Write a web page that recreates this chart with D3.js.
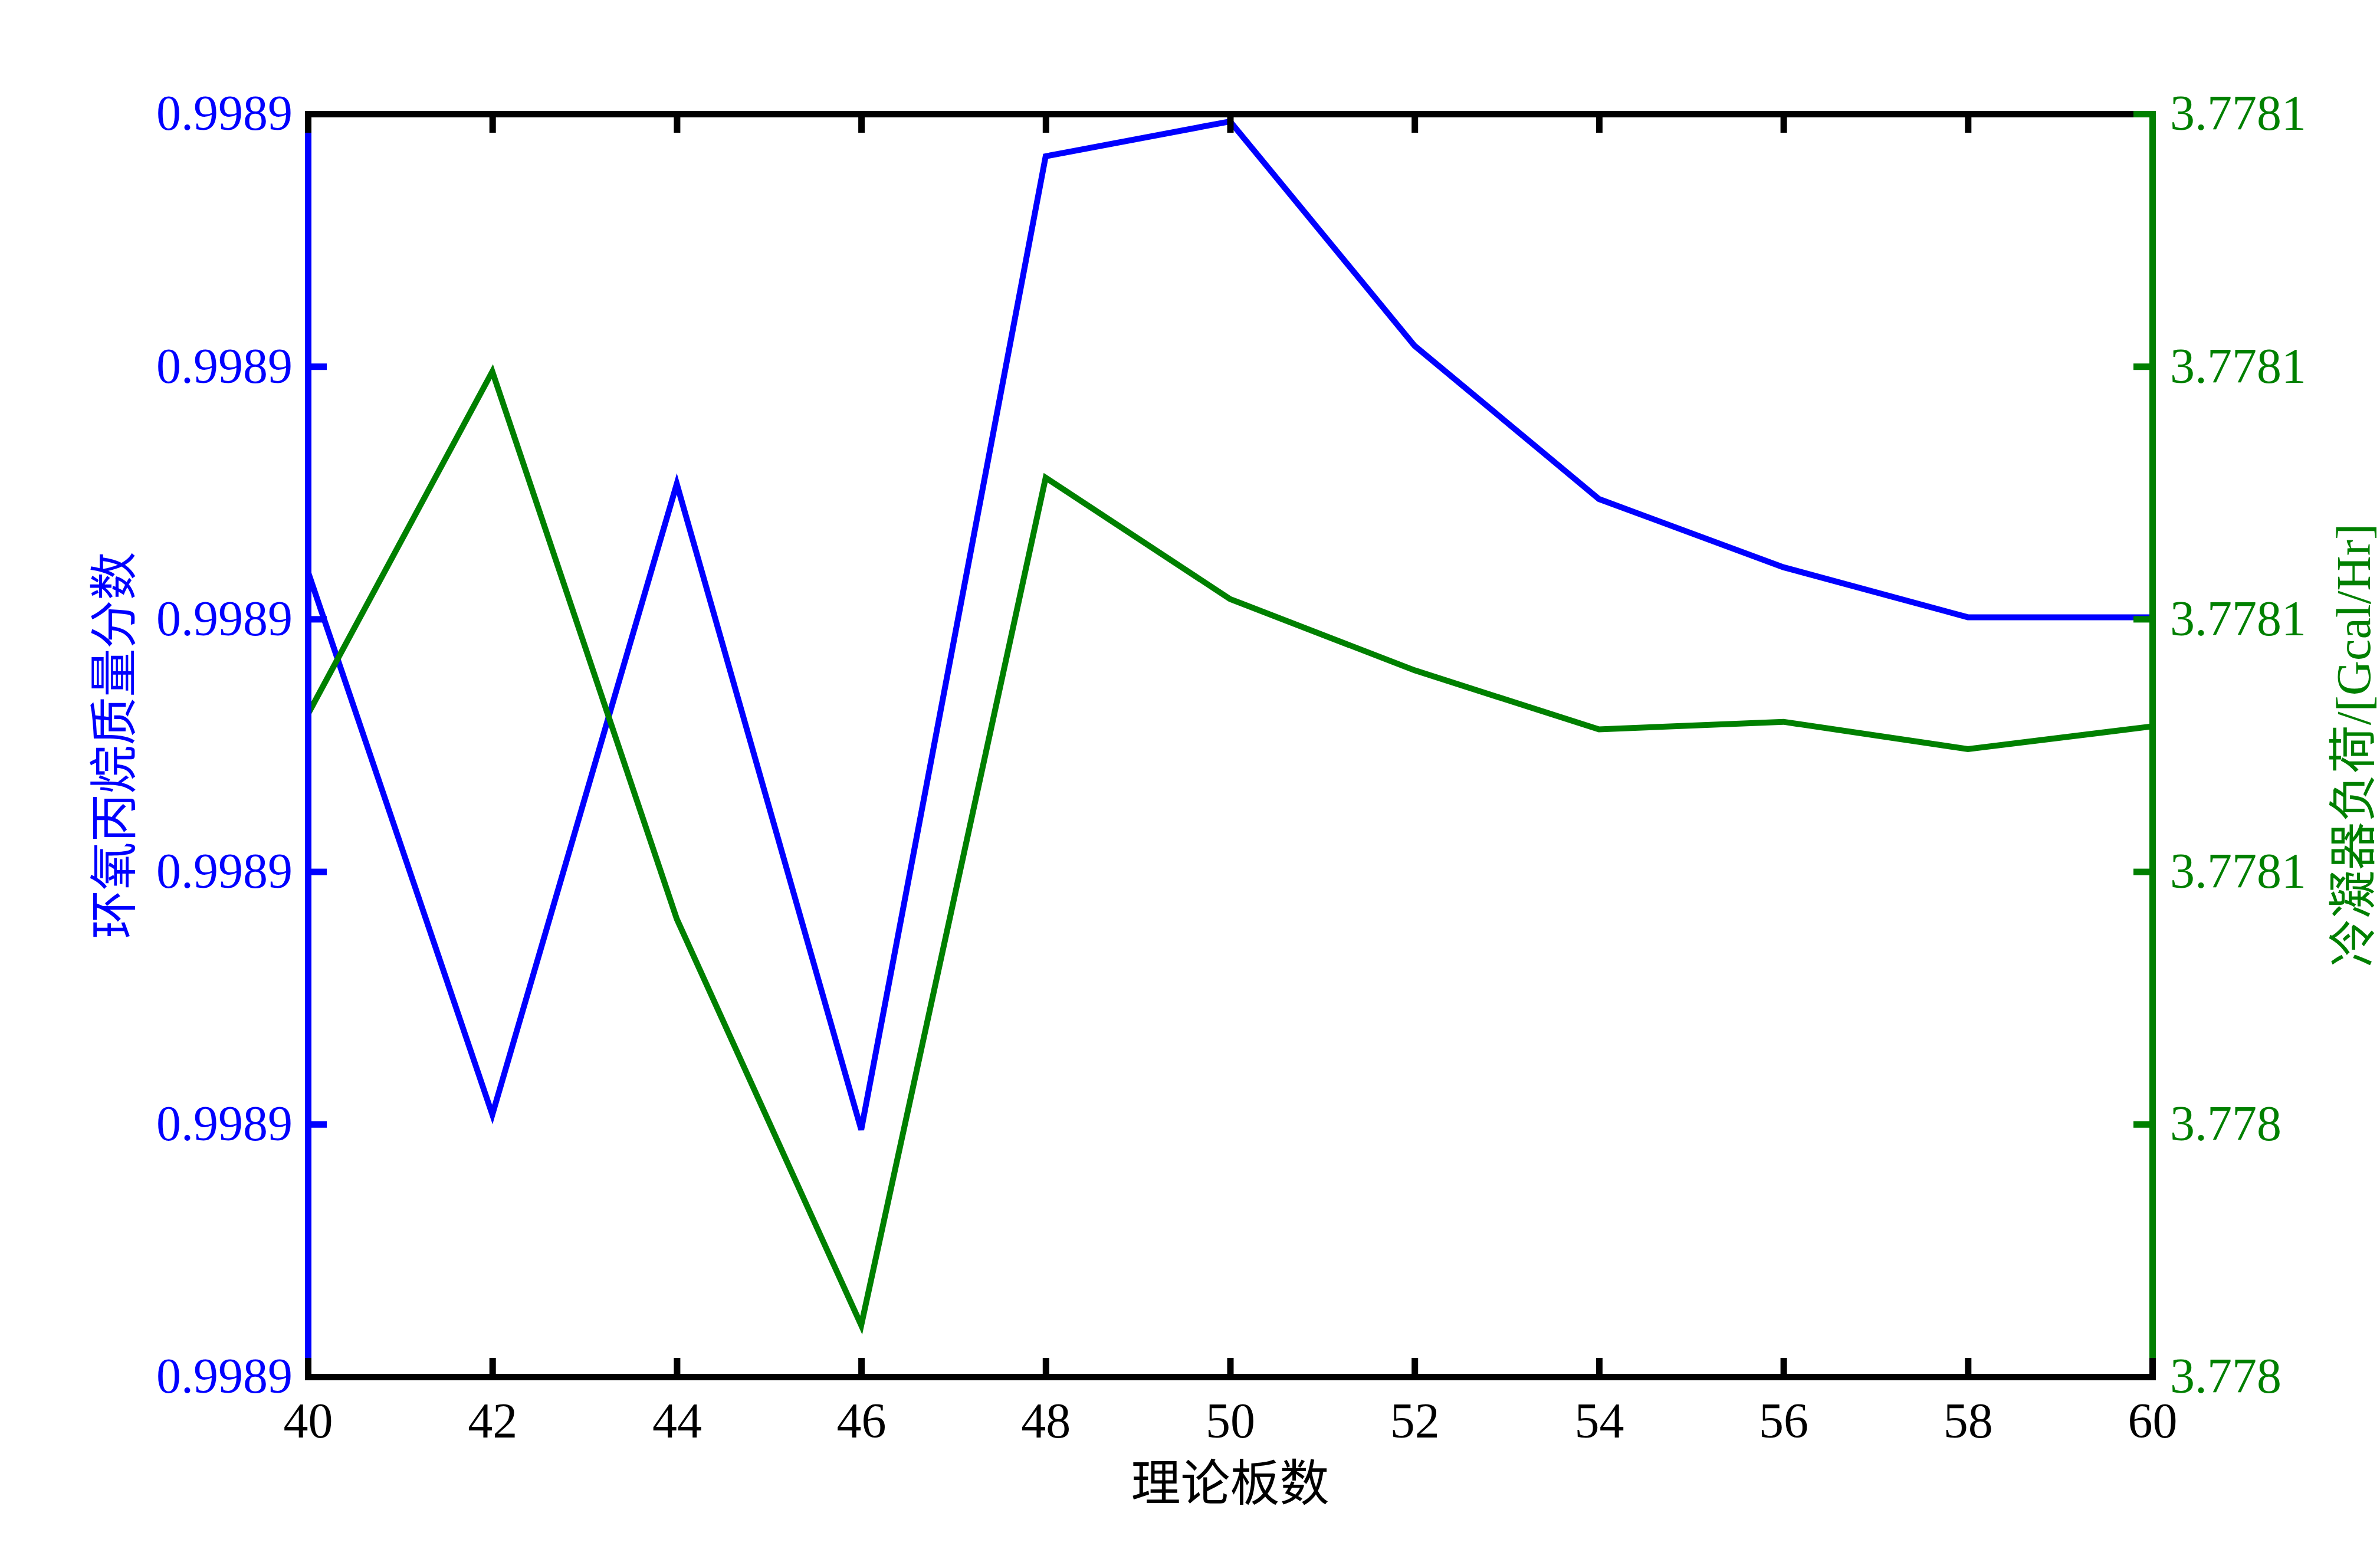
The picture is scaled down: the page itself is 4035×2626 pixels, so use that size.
<!DOCTYPE html>
<html>
<head>
<meta charset="utf-8">
<script src="https://cdn.jsdelivr.net/npm/d3@7"></script>
<style>
  html, body { margin: 0; padding: 0; background: #fff; }
  svg { display: block; }
  text { font-family: "Liberation Serif", "Noto Sans CJK SC", serif; }
</style>
</head>
<body>
<script>
// ---- data ----
const stages = [40, 42, 44, 46, 48, 50, 52, 54, 56, 58, 60];
const purity = [0.99889188, 0.99887038, 0.99889535, 0.99886978, 0.99890832, 0.99890970,
                0.99890082, 0.99889475, 0.99889205, 0.99889007, 0.99889007];
const duty = [3.77807246, 3.77809959, 3.77805625, 3.77802408, 3.77809119, 3.77808158,
              3.77807594, 3.77807126, 3.77807186, 3.77806970, 3.77807150];
const xTicks = [40, 42, 44, 46, 48, 50, 52, 54, 56, 58, 60];
const leftTicks = [0.99886, 0.99887, 0.99888, 0.99889, 0.99890, 0.99891];
const rightTicks = [3.77802, 3.77804, 3.77806, 3.77808, 3.77810, 3.77812];
const xTitle = "理论板数";
const leftTitle = "环氧丙烷质量分数";
const rightTitle = "冷凝器负荷/[Gcal/Hr]";

// ---- layout ----
const W = 4035, H = 2626;
const L = 522, R = 3649, T = 193, B = 2334;
const fontSize = 84;
const axisW = 11, lineW = 10, tickLen = 32;
const BLUE = "#0000ff", GREEN = "#008000", BLACK = "#000000";

const svg = d3.select("body").append("svg").attr("width", W).attr("height", H);
svg.append("rect").attr("width", W).attr("height", H).attr("fill", "#fff");

const x = d3.scaleLinear().domain([40, 60]).range([L, R]);
const yL = d3.scaleLinear().domain([leftTicks[0], leftTicks[leftTicks.length - 1]]).range([B, T]);
const yR = d3.scaleLinear().domain([rightTicks[0], rightTicks[rightTicks.length - 1]]).range([B, T]);

// data lines
const lineL = d3.line().x((d, i) => x(stages[i])).y(d => yL(d));
const lineR = d3.line().x((d, i) => x(stages[i])).y(d => yR(d));
svg.append("path").datum(purity).attr("d", lineL)
  .attr("fill", "none").attr("stroke", BLUE).attr("stroke-width", lineW);
svg.append("path").datum(duty).attr("d", lineR)
  .attr("fill", "none").attr("stroke", GREEN).attr("stroke-width", lineW);

function styleAxis(g, color, hideText) {
  g.select(".domain").attr("stroke", color).attr("stroke-width", axisW).attr("stroke-linecap", "square");
  g.selectAll(".tick line").attr("stroke", color).attr("stroke-width", axisW);
  g.selectAll(".tick text").attr("fill", color)
    .style("font-size", fontSize + "px")
    .style("font-family", '"Liberation Serif", serif');
  if (hideText) g.selectAll(".tick text").remove();
}

// left axis (blue)
const gL = svg.append("g").attr("transform", `translate(${L},0)`)
  .call(d3.axisLeft(yL).tickValues(leftTicks).tickFormat(d3.format(".4"))
    .tickSizeInner(-tickLen).tickSizeOuter(0).tickPadding(26));
styleAxis(gL, BLUE, false);

// top axis (black, no labels)
const gT = svg.append("g").attr("transform", `translate(0,${T})`)
  .call(d3.axisTop(x).tickValues(xTicks).tickSizeInner(-tickLen).tickSizeOuter(0));
styleAxis(gT, BLACK, true);

// right axis (green)
const gR = svg.append("g").attr("transform", `translate(${R},0)`)
  .call(d3.axisRight(yR).tickValues(rightTicks).tickFormat(d3.format(".5"))
    .tickSizeInner(-tickLen).tickSizeOuter(0).tickPadding(30));
styleAxis(gR, GREEN, false);

// bottom axis (black)
const gB = svg.append("g").attr("transform", `translate(0,${B})`)
  .call(d3.axisBottom(x).tickValues(xTicks).tickFormat(d3.format("d"))
    .tickSizeInner(-tickLen).tickSizeOuter(0).tickPadding(43));
styleAxis(gB, BLACK, false);

// titles
svg.append("text").text(xTitle)
  .attr("x", (L + R) / 2).attr("y", 2544)
  .attr("text-anchor", "middle").attr("fill", BLACK)
  .style("font-size", fontSize + "px")
  .style("font-family", '"Noto Sans CJK SC", sans-serif');

svg.append("text").text(leftTitle)
  .attr("transform", `translate(222,${(T + B) / 2}) rotate(-90)`)
  .attr("text-anchor", "middle").attr("fill", BLUE)
  .style("font-size", "82px")
  .style("font-family", '"Noto Sans CJK SC", sans-serif');

svg.append("text").text(rightTitle)
  .attr("transform", `translate(4018,${(T + B) / 2}) rotate(-90)`)
  .attr("text-anchor", "middle").attr("fill", GREEN)
  .style("font-size", "82px")
  .style("font-family", '"Liberation Serif", "Noto Sans CJK SC", serif');
</script>
</body>
</html>
